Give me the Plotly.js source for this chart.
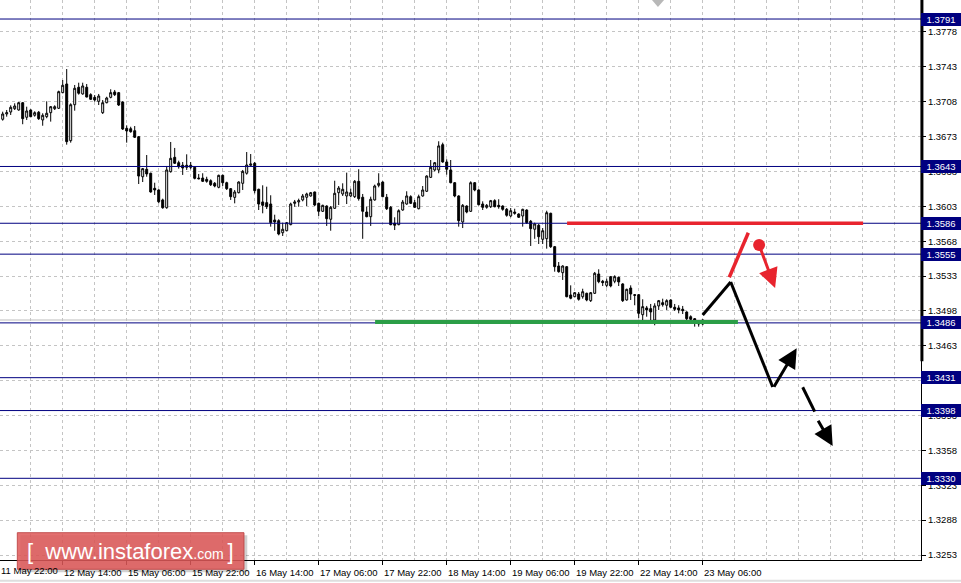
<!DOCTYPE html>
<html>
<head>
<meta charset="utf-8">
<script src="https://cdn.plot.ly/plotly-3.0.1.min.js"></script>
<style>html,body{margin:0;padding:0;background:#fff;}#chart{width:961px;height:583px;}</style>
</head>
<body>
<div id="chart"></div>
<script>
// H1 candles (bar 1 .. 176)
const openP = [1.36904,1.36957,1.36977,1.37010,1.36997,1.37070,1.36924,1.36997,1.36944,1.36974,
1.36897,1.36930,1.36970,1.37010,1.37014,1.37171,1.37258,1.36689,1.37050,1.37225,
1.37158,1.37225,1.37151,1.37124,1.37084,1.36970,1.37070,1.37124,1.37178,1.37171,
1.37077,1.36813,1.36809,1.36789,1.36729,1.36327,1.36402,1.36362,1.36211,1.36194,
1.36094,1.36016,1.36378,1.36522,1.36468,1.36442,1.36442,1.36442,1.36422,1.36314,
1.36314,1.36301,1.36287,1.36261,1.36221,1.36341,1.36267,1.36207,1.36120,1.36167,
1.36261,1.36362,1.36442,1.36462,1.36201,1.36074,1.36067,1.36053,1.35893,1.35886,
1.35765,1.35785,1.35846,1.36060,1.36074,1.36094,1.36121,1.36134,1.36174,1.36060,
1.35980,1.36033,1.35900,1.36010,1.36167,1.36154,1.36134,1.36134,1.36127,1.36281,
1.36121,1.35973,1.35926,1.36094,1.36241,1.36274,1.36121,1.36020,1.35860,1.35846,
1.35993,1.36053,1.36127,1.36067,1.36006,1.36134,1.36181,1.36321,1.36395,1.36395,
1.36649,1.36475,1.36395,1.36267,1.36134,1.35873,1.36033,1.35980,1.36267,1.36194,
1.36053,1.36020,1.36026,1.36087,1.36040,1.36033,1.36000,1.35933,1.35973,1.35953,
1.35933,1.35993,1.35880,1.35800,1.35840,1.35699,1.35705,1.35960,1.35625,1.35431,
1.35364,1.35424,1.35140,1.35123,1.35150,1.35123,1.35157,1.35083,1.35157,1.35351,
1.35278,1.35237,1.35324,1.35278,1.35317,1.35251,1.35090,1.35210,1.35143,1.35143,
1.34942,1.35010,1.35003,1.34889,1.35030,1.35063,1.35037,1.35090,1.35017,1.35010,
1.34997,1.34969,1.34922,1.34902,1.34869,1.34849];
const highP = [1.36980,1.36997,1.37044,1.37064,1.37077,1.37077,1.37030,1.37004,1.36984,1.36987,
1.36964,1.37084,1.37037,1.37044,1.37191,1.37298,1.37408,1.37064,1.37248,1.37271,
1.37271,1.37258,1.37165,1.37147,1.37158,1.37097,1.37130,1.37205,1.37198,1.37178,
1.37084,1.36843,1.36829,1.36836,1.36736,1.36415,1.36545,1.36368,1.36267,1.36201,
1.36107,1.36435,1.36676,1.36616,1.36488,1.36475,1.36552,1.36475,1.36428,1.36355,
1.36362,1.36327,1.36301,1.36274,1.36348,1.36348,1.36277,1.36214,1.36194,1.36281,
1.36395,1.36575,1.36555,1.36475,1.36207,1.36241,1.36227,1.36141,1.35946,1.35900,
1.35866,1.35873,1.36067,1.36094,1.36107,1.36154,1.36167,1.36174,1.36177,1.36067,
1.36046,1.36040,1.36033,1.36287,1.36234,1.36261,1.36368,1.36207,1.36294,1.36402,
1.36154,1.36026,1.36127,1.36248,1.36362,1.36281,1.36154,1.36033,1.35920,1.36000,
1.36094,1.36181,1.36141,1.36094,1.36147,1.36234,1.36341,1.36495,1.36475,1.36683,
1.36669,1.36502,1.36495,1.36274,1.36141,1.36053,1.36040,1.36281,1.36274,1.36201,
1.36080,1.36053,1.36094,1.36101,1.36101,1.36040,1.36013,1.36013,1.36006,1.35960,
1.36006,1.36000,1.35893,1.35866,1.35853,1.35812,1.35986,1.35966,1.35632,1.35471,
1.35438,1.35431,1.35237,1.35170,1.35170,1.35203,1.35163,1.35170,1.35371,1.35398,
1.35291,1.35304,1.35331,1.35338,1.35324,1.35258,1.35203,1.35237,1.35150,1.35150,
1.35097,1.35030,1.35050,1.35057,1.35090,1.35103,1.35097,1.35097,1.35050,1.35037,
1.35030,1.34976,1.34936,1.34909,1.34889,1.34895];
const lowP = [1.36890,1.36930,1.36947,1.36997,1.36990,1.36854,1.36897,1.36924,1.36930,1.36897,
1.36839,1.36914,1.36880,1.36997,1.37007,1.37165,1.36649,1.36669,1.36990,1.37151,
1.37151,1.37124,1.37097,1.37080,1.37047,1.36957,1.37064,1.37114,1.37137,1.37037,
1.36796,1.36669,1.36769,1.36716,1.36254,1.36274,1.36327,1.36167,1.36144,1.36060,
1.36006,1.36006,1.36368,1.36455,1.36408,1.36345,1.36395,1.36402,1.36301,1.36301,
1.36274,1.36267,1.36234,1.36221,1.36211,1.36234,1.36194,1.36094,1.36060,1.36160,
1.36194,1.36348,1.36435,1.36160,1.35993,1.35960,1.36003,1.35826,1.35785,1.35739,
1.35732,1.35779,1.35840,1.36026,1.36026,1.36080,1.36033,1.36127,1.36033,1.35933,
1.35973,1.35833,1.35785,1.36006,1.36043,1.36134,1.36053,1.36121,1.36114,1.36087,
1.35704,1.35920,1.35833,1.36087,1.36221,1.36121,1.35993,1.35840,1.35792,1.35840,
1.35986,1.36046,1.36053,1.36013,1.36000,1.36127,1.36174,1.36314,1.36381,1.36362,
1.36468,1.36348,1.36261,1.36121,1.35826,1.35812,1.35960,1.35973,1.36181,1.36040,
1.35993,1.36006,1.36013,1.36020,1.36006,1.35986,1.35926,1.35920,1.35946,1.35913,
1.35826,1.35853,1.35632,1.35704,1.35652,1.35652,1.35605,1.35612,1.35374,1.35364,
1.35291,1.35117,1.35097,1.35117,1.35083,1.35103,1.35077,1.35070,1.35150,1.35258,
1.35230,1.35217,1.35217,1.35258,1.35230,1.35070,1.35083,1.35090,1.35037,1.34909,
1.34849,1.34922,1.34882,1.34836,1.34990,1.35023,1.34990,1.35010,1.34980,1.34956,
1.34949,1.34882,1.34889,1.34822,1.34822,1.34836];
const closeP = [1.36957,1.36970,1.37024,1.37037,1.37070,1.36910,1.36987,1.36930,1.36970,1.36910,
1.36944,1.36964,1.37030,1.37030,1.37181,1.37245,1.36679,1.37050,1.37215,1.37165,
1.37238,1.37127,1.37104,1.37097,1.37137,1.37070,1.37117,1.37171,1.37151,1.37047,
1.36806,1.36786,1.36779,1.36723,1.36334,1.36408,1.36355,1.36174,1.36194,1.36076,
1.36016,1.36395,1.36512,1.36462,1.36428,1.36415,1.36422,1.36422,1.36311,1.36307,
1.36281,1.36281,1.36247,1.36234,1.36341,1.36267,1.36207,1.36127,1.36174,1.36274,
1.36381,1.36445,1.36455,1.36187,1.36053,1.36040,1.36026,1.35866,1.35873,1.35752,
1.35800,1.35866,1.36053,1.36074,1.36087,1.36134,1.36154,1.36167,1.36043,1.35980,
1.36040,1.35906,1.36020,1.36161,1.36214,1.36201,1.36174,1.36167,1.36281,1.36107,
1.35980,1.35926,1.36101,1.36234,1.36261,1.36127,1.36006,1.35846,1.35840,1.35986,
1.36073,1.36134,1.36060,1.36020,1.36127,1.36194,1.36334,1.36422,1.36468,1.36636,
1.36475,1.36402,1.36267,1.36134,1.35886,1.36040,1.35973,1.36267,1.36194,1.36046,
1.36020,1.36040,1.36087,1.36026,1.36026,1.36000,1.35940,1.35986,1.35960,1.35920,
1.36000,1.35866,1.35806,1.35853,1.35725,1.35785,1.35966,1.35625,1.35424,1.35374,
1.35431,1.35123,1.35107,1.35163,1.35097,1.35173,1.35090,1.35163,1.35358,1.35274,
1.35264,1.35278,1.35231,1.35324,1.35271,1.35083,1.35197,1.35150,1.35137,1.34956,
1.35023,1.34990,1.34970,1.35030,1.35083,1.35043,1.35083,1.35017,1.34997,1.34990,
1.34983,1.34902,1.34896,1.34889,1.34849,1.34889];

// time axis labels (bar index of each label)
const tickBars   = [16,32,48,64,80,96,112,128,144,160,176];
const tickLabels = ['12 May 14:00','15 May 06:00','15 May 22:00','16 May 14:00','17 May 06:00',
                    '17 May 22:00','18 May 14:00','19 May 06:00','19 May 22:00','22 May 14:00','23 May 06:00'];
const firstLabel = '11 May 22:00';

// horizontal price levels
const levels = [1.3791, 1.3643, 1.3586, 1.3555, 1.3486, 1.3431, 1.3398, 1.3330];
const bidPrice = 1.34889;

// drawn analysis (bar index, price)
const greenSupport = {x: [94.1, 184.8], y: 1.3487};
const redResistance = {x: [142.1, 216.1], y: 1.3586};
const redUpLeg = [[182.65, 1.35318], [187.4, 1.35765]];
const redDot = [190.1, 1.35642];
const redArrow = [[190.3, 1.35621], [194.1, 1.35210]];
const blackPath = [[176.0, 1.34939], [183.0, 1.35271], [193.5, 1.34217]];
const blackUpArrow = [[193.6, 1.34204], [199.5, 1.34605]];
const blackDash = [[201.0, 1.34214], [204.0, 1.33970]];
const blackDashArrow = [[204.65, 1.33892], [208.5, 1.33625]];

const xBars = openP.map((_, k) => k + 1);

const traces = [
  {
    type: 'candlestick', x: xBars, open: openP, high: highP, low: lowP, close: closeP,
    increasing: {line: {color: '#000000', width: 1}, fillcolor: '#ffffff'},
    decreasing: {line: {color: '#000000', width: 1}, fillcolor: '#000000'},
    whiskerwidth: 0, hoverinfo: 'skip', showlegend: false
  },
  {
    type: 'scatter', mode: 'markers', x: [redDot[0]], y: [redDot[1]],
    marker: {size: 12, color: '#e8242e'}, hoverinfo: 'skip', showlegend: false
  }
];

const grid = '#c4c4c4';
const shapes = [];
// bid line
shapes.push({type: 'line', xref: 'paper', x0: 0, x1: 1, yref: 'y', y0: bidPrice, y1: bidPrice,
  line: {color: '#bdbdbd', width: 1}, layer: 'below'});
levels.forEach(v => shapes.push({type: 'line', xref: 'paper', x0: 0, x1: 1, yref: 'y', y0: v, y1: v,
  line: {color: '#000080', width: 1}, layer: 'above'}));
shapes.push({type: 'line', xref: 'x', yref: 'y', x0: greenSupport.x[0], x1: greenSupport.x[1],
  y0: greenSupport.y, y1: greenSupport.y, line: {color: '#2b9e47', width: 4}});
shapes.push({type: 'line', xref: 'x', yref: 'y', x0: redResistance.x[0], x1: redResistance.x[1],
  y0: redResistance.y, y1: redResistance.y, line: {color: '#e8242e', width: 3.5}});
shapes.push({type: 'line', xref: 'x', yref: 'y', x0: redUpLeg[0][0], y0: redUpLeg[0][1],
  x1: redUpLeg[1][0], y1: redUpLeg[1][1], line: {color: '#e8242e', width: 3.5}});
for (let k = 0; k < blackPath.length - 1; k++) {
  shapes.push({type: 'line', xref: 'x', yref: 'y', x0: blackPath[k][0], y0: blackPath[k][1],
    x1: blackPath[k + 1][0], y1: blackPath[k + 1][1], line: {color: '#000000', width: 3}});
}
shapes.push({type: 'line', xref: 'x', yref: 'y', x0: blackDash[0][0], y0: blackDash[0][1],
  x1: blackDash[1][0], y1: blackDash[1][1], line: {color: '#000000', width: 3}});
// thick part of the price scale line
shapes.push({type: 'line', xref: 'paper', yref: 'paper', x0: 1.001, x1: 1.001, y0: 1, y1: 0.355,
  line: {color: '#000000', width: 3}});
// chart shift marker at top
shapes.push({type: 'path', xref: 'paper', yref: 'paper',
  path: 'M 0.7079 1 L 0.7210 1 L 0.7144 0.9875 Z', fillcolor: '#b8b8b8', line: {width: 0}});
// bottom frame line
shapes.push({type: 'line', xref: 'paper', yref: 'paper', x0: 0, x1: 1.05, y0: -0.037, y1: -0.037,
  line: {color: '#dedede', width: 2}});
// watermark box + shadow
shapes.push({type: 'rect', xref: 'paper', yref: 'paper', x0: 0.0220, x1: 0.2685, y0: 0.0440, y1: -0.0220,
  fillcolor: 'rgba(0,0,0,0.18)', line: {width: 0}, layer: 'above'});
shapes.push({type: 'rect', xref: 'paper', yref: 'paper', x0: 0.0188, x1: 0.2649, y0: 0.0488, y1: -0.0166,
  fillcolor: 'rgba(222,88,88,0.86)', line: {color: 'rgba(190,70,70,0.9)', width: 1}, layer: 'above'});

const annotations = [];
levels.forEach(v => annotations.push({
  xref: 'paper', x: 1, xanchor: 'left', xshift: 0, yref: 'y', y: v, yanchor: 'middle',
  text: v.toFixed(4), showarrow: false, bgcolor: '#000080', borderpad: 1, borderwidth: 0,
  width: 38, height: 11, align: 'center',
  font: {family: 'Liberation Sans, Arial, sans-serif', size: 9.5, color: '#ffffff'}
}));
annotations.push({
  xref: 'paper', x: 0, xanchor: 'left', xshift: -1, yref: 'paper', y: -0.018, yanchor: 'middle',
  text: firstLabel, showarrow: false,
  font: {family: 'Liberation Sans, Arial, sans-serif', size: 9.5, color: '#000000'}
});
function arrowAnn(seg, color, width, size) {
  return {xref: 'x', yref: 'y', axref: 'x', ayref: 'y',
    ax: seg[0][0], ay: seg[0][1], x: seg[1][0], y: seg[1][1],
    text: '', showarrow: true, arrowhead: 2, arrowsize: size, arrowwidth: width,
    arrowcolor: color, standoff: 0, startstandoff: 0};
}
annotations.push(arrowAnn(redArrow, '#e8242e', 3, 1.3));
annotations.push(arrowAnn(blackUpArrow, '#000000', 3, 1.3));
annotations.push(arrowAnn(blackDashArrow, '#000000', 3, 1.3));
annotations.push({
  xref: 'paper', yref: 'paper', x: 0.1419, y: 0.016, xanchor: 'center', yanchor: 'middle',
  text: '[&nbsp;&nbsp;www.instaforex<span style="font-size:14px">.com&nbsp;</span>]',
  showarrow: false, font: {family: 'Liberation Sans, Arial, sans-serif', size: 22, color: '#ffffff'}
});

const layout = {
  width: 961, height: 583,
  margin: {l: 0, r: 40, t: 0, b: 23, pad: 0},
  paper_bgcolor: '#ffffff', plot_bgcolor: '#ffffff',
  showlegend: false,
  font: {family: 'Liberation Sans, Arial, sans-serif', size: 10, color: '#000000'},
  xaxis: {
    range: [0.325, 230.575], tickmode: 'array', tickvals: tickBars, ticktext: tickLabels,
    ticks: 'outside', ticklen: 4, tickcolor: '#000000', ticklabelshift: 30,
    tickfont: {size: 9.5}, showgrid: true, gridcolor: grid, griddash: '3px,3px', gridwidth: 1,
    minor: {tickmode: 'linear', tick0: 0, dtick: 8, showgrid: true, gridcolor: grid,
            griddash: '3px,3px', gridwidth: 1, ticks: ''},
    showline: true, linecolor: '#000000', linewidth: 1, zeroline: false,
    rangeslider: {visible: false}, fixedrange: true
  },
  yaxis: {
    side: 'right', range: [1.32480, 1.38101], tickmode: 'linear', tick0: 1.3253, dtick: 0.0035,
    tickformat: '.4f', ticks: 'outside', ticklen: 4, tickcolor: '#000000',
    tickfont: {size: 9.5}, showgrid: true, gridcolor: grid, griddash: '3px,3px', gridwidth: 1,
    showline: true, linecolor: '#000000', linewidth: 1, zeroline: false, fixedrange: true
  },
  shapes: shapes,
  annotations: annotations
};

Plotly.newPlot('chart', traces, layout, {displayModeBar: false, staticPlot: true});
</script>
</body>
</html>
